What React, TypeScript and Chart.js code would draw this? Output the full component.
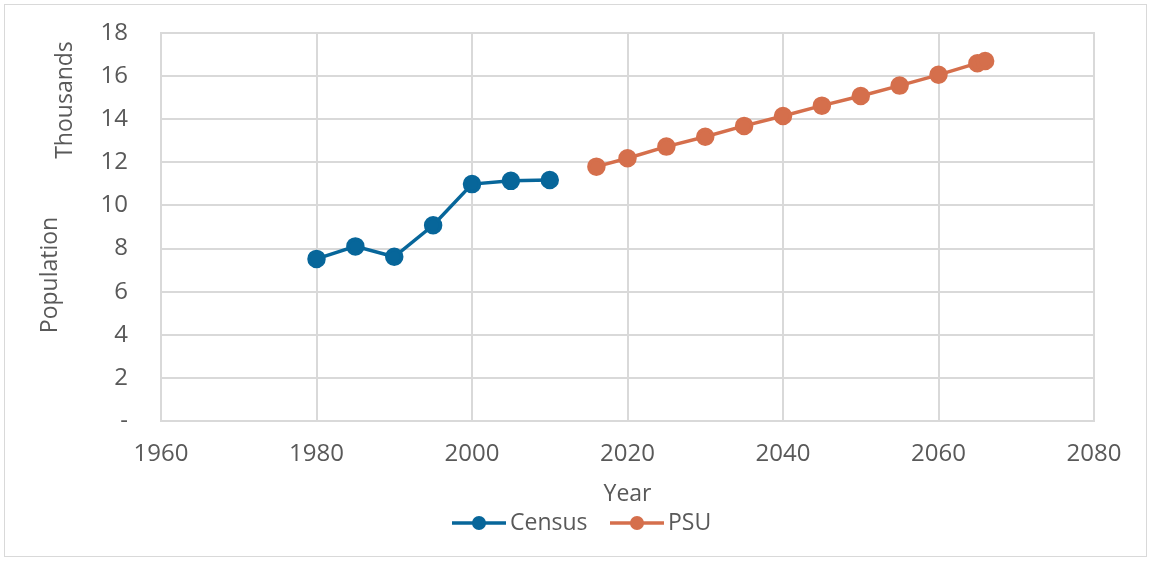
import React, { useEffect, useRef } from "react";
import { Chart, registerables } from "chart.js";

Chart.register(...registerables);

const censusYears = [1980, 1985, 1990, 1995, 2000, 2005, 2010];
const censusValues = [7.52, 8.1, 7.62, 9.08, 10.99, 11.14, 11.18];
const psuYears = [2016, 2020, 2025, 2030, 2035, 2040, 2045, 2050, 2055, 2060, 2065, 2066];
const psuValues = [11.8, 12.19, 12.73, 13.19, 13.69, 14.15, 14.63, 15.08, 15.56, 16.06, 16.6, 16.7];
const seriesNames = ["Census", "PSU"];
const seriesColors = ["#07669A", "#D56F4C"];
const xTitle = "Year";
const yTitle = "Population";
const unitLabel = "Thousands";

const FONT = "'Open Sans', sans-serif";
const TEXT = "#595959";

const overlay = {
  id: "overlay",
  afterDraw(chart: any) {
    const ctx = chart.ctx;
    const area = chart.chartArea;
    ctx.save();
    ctx.fillStyle = TEXT;
    ctx.font = `23px ${FONT}`;
    ctx.textAlign = "center";
    ctx.textBaseline = "middle";
    ctx.fillText(xTitle, (area.left + area.right) / 2, 494);
    ctx.save();
    ctx.translate(50, 275);
    ctx.rotate(-Math.PI / 2);
    ctx.fillText(yTitle, 0, 0);
    ctx.restore();
    ctx.save();
    ctx.translate(65, 100);
    ctx.rotate(-Math.PI / 2);
    ctx.fillText(unitLabel, 0, 0);
    ctx.restore();
    const items = [
      { x: 452, name: seriesNames[0], color: seriesColors[0] },
      { x: 610, name: seriesNames[1], color: seriesColors[1] },
    ];
    const ly = 523;
    items.forEach((it) => {
      ctx.strokeStyle = it.color;
      ctx.lineWidth = 3.5;
      ctx.beginPath();
      ctx.moveTo(it.x, ly);
      ctx.lineTo(it.x + 54, ly);
      ctx.stroke();
      ctx.fillStyle = it.color;
      ctx.beginPath();
      ctx.arc(it.x + 27, ly, 7, 0, Math.PI * 2);
      ctx.fill();
      ctx.fillStyle = TEXT;
      ctx.textAlign = "left";
      ctx.fillText(it.name, it.x + 58, ly);
    });
    ctx.restore();
  },
};

export default function App() {
  const ref = useRef<HTMLCanvasElement>(null);
  useEffect(() => {
    if (!ref.current) return;
    const chart = new Chart(ref.current, {
      type: "scatter",
      data: {
        datasets: [
          {
            label: seriesNames[0],
            data: censusYears.map((y, i) => ({ x: y, y: censusValues[i] })),
            showLine: true,
            borderColor: seriesColors[0],
            backgroundColor: seriesColors[0],
            borderWidth: 3.5,
            pointRadius: 7.5,
            pointHoverRadius: 7.5,
          },
          {
            label: seriesNames[1],
            data: psuYears.map((y, i) => ({ x: y, y: psuValues[i] })),
            showLine: true,
            borderColor: seriesColors[1],
            backgroundColor: seriesColors[1],
            borderWidth: 3.5,
            pointRadius: 7.5,
            pointHoverRadius: 7.5,
          },
        ],
      },
      options: {
        animation: false,
        responsive: false,
        layout: { padding: { top: 33, right: 57, left: 0, bottom: 0 } },
        plugins: { legend: { display: false }, tooltip: { enabled: false } },
        scales: {
          x: {
            type: "linear",
            min: 1960,
            max: 2080,
            afterFit: (s: any) => {
              s.height = 140;
              s.paddingLeft = 0;
              s.paddingRight = 0;
            },
            ticks: {
              stepSize: 20,
              color: TEXT,
              font: { family: FONT, size: 24 },
              padding: 19,
              callback: (v: any) => String(v),
            },
            grid: { color: "#D9D9D9", lineWidth: 2, drawTicks: false },
            border: { color: "#D9D9D9", width: 2 },
          },
          y: {
            min: 0,
            max: 18,
            afterFit: (s: any) => {
              s.width = 161;
              s.paddingTop = 0;
              s.paddingBottom = 0;
            },
            ticks: {
              stepSize: 2,
              color: TEXT,
              font: { family: FONT, size: 24 },
              padding: 33,
              callback: (v: any) => (v === 0 ? "-" : String(v)),
            },
            grid: { color: "#D9D9D9", lineWidth: 2, drawTicks: false },
            border: { color: "#D9D9D9", width: 2 },
          },
        },
      },
      plugins: [
        overlay,
        {
          id: "frame",
          beforeDraw(chart: any) {
            const ctx = chart.ctx;
            ctx.save();
            ctx.fillStyle = "#fff";
            ctx.fillRect(0, 0, chart.width, chart.height);
            ctx.restore();
          },
          beforeDatasetsDraw(chart: any) {
            const a = chart.chartArea;
            const ctx = chart.ctx;
            ctx.save();
            ctx.strokeStyle = "#D9D9D9";
            ctx.lineWidth = 2;
            ctx.strokeRect(a.left, a.top, a.right - a.left, a.bottom - a.top);
            ctx.restore();
          },
        },
      ],
    } as any);
    return () => chart.destroy();
  }, []);
  return (
    <div style={{ position: "absolute", left: 0, top: 0, width: 1151, height: 561, background: "#fff" }}>
      <canvas ref={ref} width={1151} height={561} style={{ position: "absolute", left: 0, top: 0 }} />
      <div
        style={{
          position: "absolute",
          left: 4,
          top: 4,
          width: 1141,
          height: 551,
          border: "1px solid #D9D9D9",
          pointerEvents: "none",
        }}
      />
    </div>
  );
}
